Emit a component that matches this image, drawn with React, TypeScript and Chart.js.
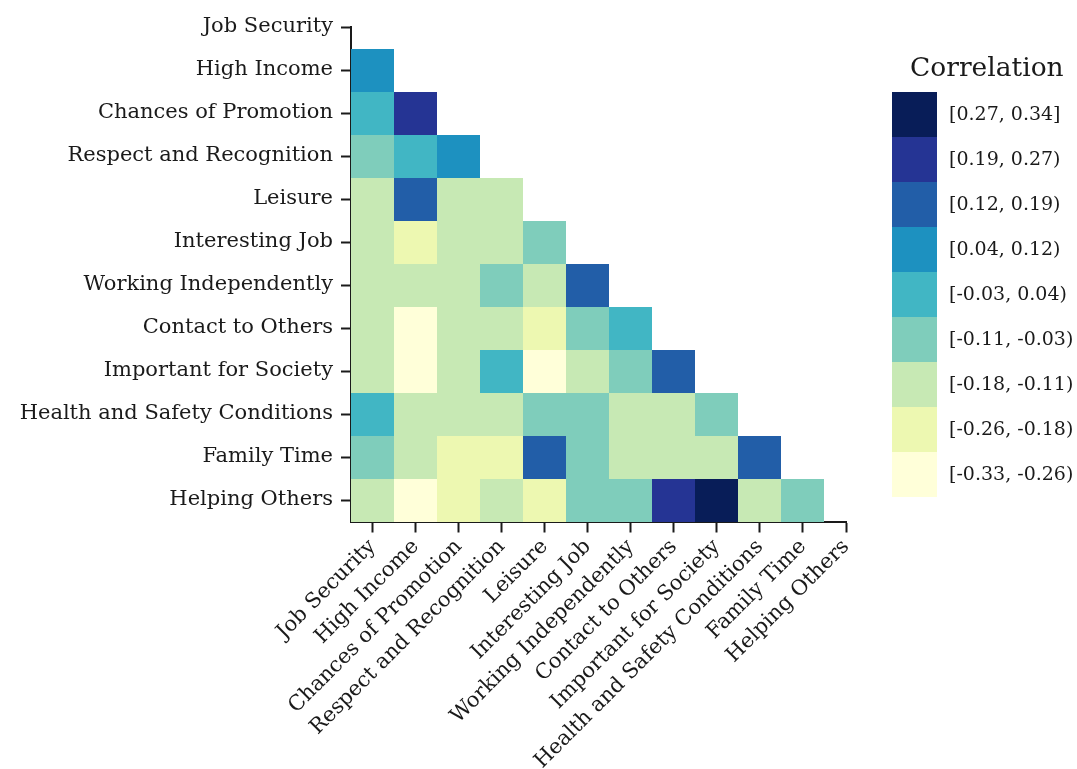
import { useEffect, useRef } from "react";
import { Chart, registerables } from "chart.js";

Chart.register(...registerables);

const categories = [
  "Job Security",
  "High Income",
  "Chances of Promotion",
  "Respect and Recognition",
  "Leisure",
  "Interesting Job",
  "Working Independently",
  "Contact to Others",
  "Important for Society",
  "Health and Safety Conditions",
  "Family Time",
  "Helping Others",
];

// lower-triangle correlations, row i holds values for columns 0..i-1
const jobSecurityRow: number[] = [];
const highIncomeRow = [0.08];
const promotionRow = [0.01, 0.23];
const respectRow = [-0.07, 0.0, 0.09];
const leisureRow = [-0.14, 0.15, -0.15, -0.13];
const interestingRow = [-0.15, -0.22, -0.14, -0.12, -0.08];
const independentRow = [-0.13, -0.16, -0.17, -0.06, -0.12, 0.16];
const contactRow = [-0.14, -0.3, -0.15, -0.13, -0.2, -0.05, 0.02];
const societyRow = [-0.12, -0.31, -0.16, 0.01, -0.33, -0.13, -0.07, 0.14];
const healthRow = [0.0, -0.15, -0.12, -0.16, -0.09, -0.08, -0.14, -0.17, -0.06];
const familyRow = [-0.05, -0.16, -0.21, -0.23, 0.13, -0.09, -0.12, -0.15, -0.17, 0.17];
const helpingRow = [-0.13, -0.28, -0.24, -0.14, -0.19, -0.04, -0.1, 0.22, 0.34, -0.16, -0.06];

const rows = [
  jobSecurityRow,
  highIncomeRow,
  promotionRow,
  respectRow,
  leisureRow,
  interestingRow,
  independentRow,
  contactRow,
  societyRow,
  healthRow,
  familyRow,
  helpingRow,
];

// bins, lightest to darkest
const binLower = [-0.33, -0.26, -0.18, -0.11, -0.03, 0.04, 0.12, 0.19, 0.27];
const binUpper = [-0.26, -0.18, -0.11, -0.03, 0.04, 0.12, 0.19, 0.27, 0.34];
const binLabels = [
  "[-0.33, -0.26)",
  "[-0.26, -0.18)",
  "[-0.18, -0.11)",
  "[-0.11, -0.03)",
  "[-0.03, 0.04)",
  "[0.04, 0.12)",
  "[0.12, 0.19)",
  "[0.19, 0.27)",
  "[0.27, 0.34]",
];
const binColors = [
  "#ffffd9",
  "#edf8b1",
  "#c7e9b4",
  "#7fcdbb",
  "#41b6c4",
  "#1d91c0",
  "#225ea8",
  "#253494",
  "#081d58",
];

function colorFor(v: number): string {
  for (let i = 0; i < binLower.length; i++) {
    const last = i === binLower.length - 1;
    if (v >= binLower[i] - 1e-9 && (last ? v <= binUpper[i] + 1e-9 : v < binUpper[i] - 1e-9)) {
      return binColors[i];
    }
  }
  return v < binLower[0] ? binColors[0] : binColors[binColors.length - 1];
}

const FONT = "'DejaVu Serif', serif";
const TEXT = "#1a1a1a";

export default function App() {
  const ref = useRef<HTMLCanvasElement>(null);

  useEffect(() => {
    if (!ref.current) return;
    const points: { x: number; y: number; v: number }[] = [];
    rows.forEach((vals, r) => vals.forEach((v, c) => points.push({ x: c, y: r, v })));

    const cellPlugin = {
      id: "cells",
      beforeDatasetsDraw(chart: any) {
        const { ctx } = chart;
        const xs = chart.scales.x;
        const ys = chart.scales.y;
        const data = chart.data.datasets[0].data as any[];
        ctx.save();
        for (const p of data) {
          const x0 = Math.round(xs.getPixelForValue(p.x - 0.5));
          const x1 = Math.round(xs.getPixelForValue(p.x + 0.5));
          const y0 = Math.round(ys.getPixelForValue(p.y - 0.5));
          const y1 = Math.round(ys.getPixelForValue(p.y + 0.5));
          ctx.fillStyle = colorFor(p.v);
          ctx.fillRect(Math.min(x0, x1), Math.min(y0, y1), Math.abs(x1 - x0), Math.abs(y1 - y0));
        }
        ctx.restore();
      },
    };

    const legendPlugin = {
      id: "binLegend",
      afterDraw(chart: any) {
        const { ctx } = chart;
        ctx.save();
        ctx.fillStyle = TEXT;
        ctx.font = `26.5px ${FONT}`;
        ctx.textAlign = "left";
        ctx.textBaseline = "alphabetic";
        ctx.fillText("Correlation", 910, 76);
        const boxX = 892;
        const boxTop = 92;
        const boxH = 45;
        const boxW = 45;
        ctx.font = `19px ${FONT}`;
        ctx.textBaseline = "middle";
        const n = binColors.length;
        for (let k = 0; k < n; k++) {
          const idx = n - 1 - k;
          const y = boxTop + k * boxH;
          ctx.fillStyle = binColors[idx];
          ctx.fillRect(boxX, y, boxW, boxH);
          ctx.fillStyle = TEXT;
          ctx.fillText(binLabels[idx], 949, y + boxH / 2 + 1);
        }
        ctx.restore();
      },
    };

    const chart = new Chart(ref.current, {
      type: "scatter",
      data: {
        datasets: [
          {
            data: points,
            pointRadius: 0,
            pointHoverRadius: 0,
          },
        ],
      },
      options: {
        animation: false,
        responsive: false,
        events: [],
        layout: { padding: { top: 27, right: 231, left: 0, bottom: 0 } },
        plugins: {
          legend: { display: false },
          tooltip: { enabled: false },
          title: { display: false },
        },
        scales: {
          x: {
            type: "linear",
            min: -0.5,
            max: 11,
            z: 1,
            afterBuildTicks: (scale: any) => {
              scale.ticks = categories.map((_, i) => ({ value: i }));
            },
            afterFit: (scale: any) => {
              scale.height = 247.5;
            },
            grid: {
              drawOnChartArea: false,
              drawTicks: true,
              tickLength: 11,
              tickWidth: 2,
              tickColor: TEXT,
            },
            border: { display: true, color: TEXT, width: 2 },
            ticks: {
              autoSkip: false,
              maxRotation: 45,
              minRotation: 45,
              padding: 2,
              color: TEXT,
              font: { family: FONT, size: 21 },
              callback: (v: any) => categories[Math.round(Number(v))] ?? "",
            },
          },
          y: {
            type: "linear",
            min: 0,
            max: 11.5,
            reverse: true,
            z: 1,
            afterBuildTicks: (scale: any) => {
              scale.ticks = categories.map((_, i) => ({ value: i }));
            },
            afterFit: (scale: any) => {
              scale.width = 351;
            },
            grid: {
              drawOnChartArea: false,
              drawTicks: true,
              tickLength: 10,
              tickWidth: 2,
              tickColor: TEXT,
            },
            border: { display: true, color: TEXT, width: 2 },
            ticks: {
              autoSkip: false,
              padding: 8,
              color: TEXT,
              font: { family: FONT, size: 21 },
              callback: (v: any) => categories[Math.round(Number(v))] ?? "",
            },
          },
        },
      },
      plugins: [cellPlugin, legendPlugin],
    });

    return () => chart.destroy();
  }, []);

  return (
    <div style={{ position: "fixed", left: 0, top: 0, width: 1077, height: 769, background: "#ffffff" }}>
      <canvas ref={ref} width={1077} height={769} style={{ width: 1077, height: 769, display: "block" }} />
    </div>
  );
}
